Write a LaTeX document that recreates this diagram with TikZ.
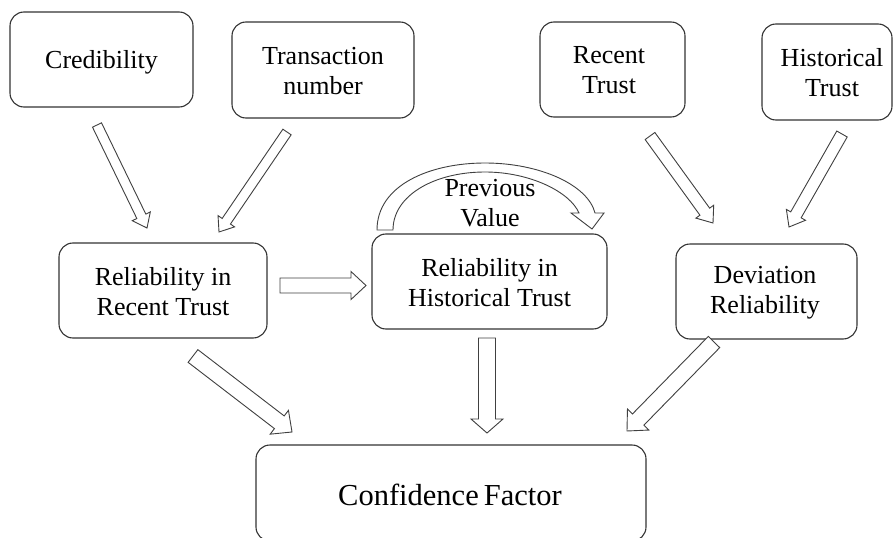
\documentclass[tikz,border=0pt]{standalone}
\usepackage{fontspec}
\setmainfont{Liberation Serif}
\usetikzlibrary{calc}
\tikzset{
  box/.style={draw=black!80, line width=1.1pt, rounded corners=14pt, align=center,
    font=\fontsize{26}{30}\selectfont, inner sep=0pt, fill=white},
  barrow/.style={draw=black!75, line width=0.9pt, fill=white, line join=miter},
  lbl/.style={align=center, font=\fontsize{26}{30}\selectfont, inner sep=0pt}
}
\newcommand\blockarrow[5]{%
  \path ($(#2)!#5!(#1)$) coordinate (bh);
  \draw[barrow] ($(#1)!#3!90:(#2)$) -- ($(bh)!#3!90:(#2)$) -- ($(bh)!#4!90:(#2)$)
    -- (#2) -- ($(bh)!#4!-90:(#2)$) -- ($(bh)!#3!-90:(#2)$) -- ($(#1)!#3!-90:(#2)$) -- cycle;
}
\begin{document}
\begin{tikzpicture}[x=1pt,y=-1pt]
\useasboundingbox (0,0) rectangle (895,538);
% boxes
\node[box, minimum width=183, minimum height=95] (cred) at (101.5,59.5) {};
\node[lbl] (credt) at (101.5,62) {Credibility};
\node[box, minimum width=182, minimum height=96] (trans) at (323,70) {};
\node[lbl] (transt) at (323,71) {Transaction\\number};
\node[box, minimum width=145, minimum height=95] (recent) at (612.5,69.5) {};
\node[lbl] (recentt) at (609,70.5) {Recent\\Trust};
\node[box, minimum width=130, minimum height=96] (hist) at (827,72) {};
\node[lbl] (histt) at (832,73) {Historical\\Trust};
\node[box, minimum width=208, minimum height=95] (relrec) at (163,290.5) {};
\node[lbl] (relrect) at (163,291.5) {Reliability in\\Recent Trust};
\node[box, minimum width=235, minimum height=95] (relhist) at (489.5,281.5) {};
\node[lbl] (relhistt) at (489.5,283) {Reliability in\\Historical Trust};
\node[box, minimum width=181, minimum height=95] (dev) at (766.5,291.5) {};
\node[lbl] (devt) at (765,293) {Deviation\\Reliability};
\node[box, minimum width=390, minimum height=96] (conf) at (451,493) {};
\node[lbl, font=\fontsize{30.5}{34}\selectfont] (conft) at (450,495) {Confidence\,Factor};
% curved arrow (previous value)
\draw[barrow] (377,230) .. controls (377,185) and (430,163) .. (485,163)
  .. controls (540,163) and (588,185) .. (595,213)
  -- (604,213) -- (592,229) -- (571,213) -- (579,213)
  .. controls (570,192) and (530,172) .. (485,172)
  .. controls (435,172) and (393,195) .. (393,230) -- cycle;
\node[lbl] (prev) at (490,203) {Previous\\Value};
% arrow end points
\coordinate (a1t) at (97,125);   \coordinate (a1h) at (147,228);
\coordinate (a2t) at (287,132);  \coordinate (a2h) at (219,232);
\coordinate (a3t) at (650,136);  \coordinate (a3h) at (713,223);
\coordinate (a4t) at (842,134);  \coordinate (a4h) at (789,227);
\coordinate (a5t) at (280,285.5);\coordinate (a5h) at (366,285.5);
\coordinate (a6t) at (193,356);  \coordinate (a6h) at (292,432);
\coordinate (a7t) at (487,338);  \coordinate (a7h) at (487,433);
\coordinate (a8t) at (714,342);  \coordinate (a8h) at (627,431);
\blockarrow{a1t}{a1h}{5pt}{10pt}{13pt}
\blockarrow{a2t}{a2h}{5pt}{10pt}{13pt}
\blockarrow{a3t}{a3h}{6pt}{11pt}{14pt}
\blockarrow{a4t}{a4h}{6pt}{11pt}{14pt}
\blockarrow{a5t}{a5h}{7.5pt}{14pt}{15pt}
\blockarrow{a6t}{a6h}{8pt}{15pt}{16pt}
\blockarrow{a7t}{a7h}{8.5pt}{16pt}{14pt}
\blockarrow{a8t}{a8h}{8pt}{15pt}{16pt}
\end{tikzpicture}
\end{document}
